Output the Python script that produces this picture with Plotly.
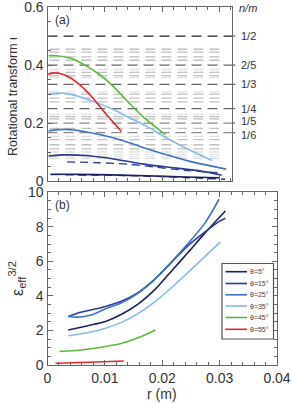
import plotly.graph_objects as go

W, H = 291, 404

# ---------------- data: panel (a) rotational transform ----------------
r_a_5 = [0.0005, 0.0054, 0.0113, 0.0171, 0.0240, 0.0300]
iota_5 = [0.023, 0.023, 0.021, 0.018, 0.014, 0.011]
r_a_5d = [0.0031, 0.0100, 0.0171, 0.0240, 0.0310]
iota_5d = [0.021, 0.020, 0.017, 0.012, 0.006]

r_a_15 = [0.0002, 0.0030, 0.0066, 0.0113, 0.0162, 0.0205, 0.0266, 0.0304]
iota_15 = [0.086, 0.090, 0.088, 0.077, 0.060, 0.049, 0.035, 0.020]
r_a_15d = [0.0034, 0.0090, 0.0141, 0.0188, 0.0240, 0.0300]
iota_15d = [0.066, 0.063, 0.058, 0.048, 0.037, 0.028]

r_a_25 = [0.0002, 0.0031, 0.0066, 0.0113, 0.0159, 0.0205, 0.0252, 0.0312]
iota_25 = [0.173, 0.178, 0.170, 0.150, 0.121, 0.092, 0.066, 0.041]

r_a_35 = [0.0002, 0.0026, 0.0054, 0.0083, 0.0113, 0.0141, 0.0171, 0.0205, 0.0240, 0.0287]
iota_35 = [0.301, 0.303, 0.292, 0.272, 0.249, 0.220, 0.191, 0.152, 0.115, 0.071]

r_a_45 = [0.0002, 0.0012, 0.0043, 0.0066, 0.0089, 0.0113, 0.0141, 0.0171, 0.0206]
iota_45 = [0.432, 0.433, 0.422, 0.399, 0.370, 0.330, 0.272, 0.214, 0.160]

r_a_55 = [0.0001, 0.0014, 0.0031, 0.0054, 0.0078, 0.0101, 0.0129]
iota_55 = [0.368, 0.373, 0.365, 0.336, 0.289, 0.234, 0.171]

# rational surfaces n/m
major_rat_vals = [1/2, 2/5, 1/3, 1/4, 1/5, 1/6]
major_rat_text = ["1/2", "2/5", "1/3", "1/4", "1/5", "1/6"]
minor_rat_mid = [5/11, 4/9, 3/7, 5/12, 3/8, 4/11, 3/10, 2/7, 3/11, 2/9, 3/14, 2/11, 1/7, 1/8, 1/9]
minor_rat_light = [1/10, 1/11, 1/12, 1/13, 5/13, 4/13, 3/13, 2/13, 5/14]

# ---------------- data: panel (b) effective ripple ----------------
r_b_5 = [0.0036, 0.0072, 0.0101, 0.0130, 0.0159, 0.0188, 0.0217, 0.0246, 0.0275, 0.0310]
eps_5 = [2.03, 2.29, 2.52, 2.95, 3.55, 4.39, 5.47, 6.55, 7.66, 8.91]

r_b_15 = [0.0036, 0.0052, 0.0075, 0.0101, 0.0130, 0.0159, 0.0188, 0.0217, 0.0246, 0.0275, 0.0298, 0.0310]
eps_15 = [2.81, 3.00, 3.18, 3.39, 3.70, 4.22, 5.00, 5.97, 6.94, 7.71, 8.28, 8.49]

r_b_25 = [0.0036, 0.0052, 0.0075, 0.0101, 0.0130, 0.0159, 0.0188, 0.0217, 0.0246, 0.0275, 0.0299]
eps_25 = [2.81, 2.77, 2.88, 3.25, 3.62, 4.18, 4.98, 6.00, 7.07, 8.24, 9.59]

r_b_35 = [0.0036, 0.0072, 0.0101, 0.0130, 0.0159, 0.0188, 0.0217, 0.0246, 0.0275, 0.0301]
eps_35 = [1.69, 1.88, 2.13, 2.48, 3.00, 3.68, 4.50, 5.39, 6.30, 7.11]

r_b_45 = [0.0021, 0.0060, 0.0101, 0.0130, 0.0159, 0.0188]
eps_45 = [0.78, 0.87, 1.07, 1.26, 1.59, 2.03]

r_b_55 = [0.0014, 0.0072, 0.0133]
eps_55 = [0.10, 0.16, 0.23]

angles = ["θ=5°", "θ=15°", "θ=25°", "θ=35°", "θ=45°", "θ=55°"]
colors = ["#1c2060", "#2b3c95", "#3d74c4", "#86bbe8", "#5cb83c", "#e8232b"]

fig = go.Figure()

def add(x, y, c, xa, ya, dash="solid", w=1.6):
    fig.add_trace(go.Scatter(x=x, y=y, mode="lines", xaxis=xa, yaxis=ya,
                             line=dict(color=c, width=w, dash=dash, shape="spline", smoothing=0.8),
                             showlegend=False, hoverinfo="skip"))

# rational lines as shapes
for v in minor_rat_light:
    fig.add_shape(type="line", xref="x domain", yref="y", x0=0.01, x1=0.96, y0=v, y1=v,
                  line=dict(color="#e0e0e0", width=1.3, dash="10px,6px"), layer="below")
for v in minor_rat_mid:
    fig.add_shape(type="line", xref="x domain", yref="y", x0=0.01, x1=0.96, y0=v, y1=v,
                  line=dict(color="#c0c0c0", width=1.3, dash="10px,6px"), layer="below")
for v, t in zip(major_rat_vals, major_rat_text):
    col = "#222222" if t == "1/2" else ("#666666" if t in ("2/5", "1/3", "1/4") else "#8a8a8a")
    fig.add_shape(type="line", xref="x domain", yref="y", x0=0.0, x1=1.0, y0=v, y1=v,
                  line=dict(color=col, width=1.3, dash="10px,6px"), layer="below")
    # small outside tick on the right axis
    fig.add_shape(type="line", xref="x domain", yref="y", x0=1.0, x1=1.018, y0=v, y1=v,
                  line=dict(color="#666666", width=1.2))

# panel (a)
add(r_a_5, iota_5, colors[0], "x", "y")
add(r_a_5d, iota_5d, colors[0], "x", "y", dash="8px,5px", w=1.3)
add(r_a_15, iota_15, colors[1], "x", "y")
add(r_a_15d, iota_15d, colors[1], "x", "y", dash="8px,5px", w=1.3)
add(r_a_25, iota_25, colors[2], "x", "y")
add(r_a_35, iota_35, colors[3], "x", "y")
add(r_a_45, iota_45, colors[4], "x", "y")
add(r_a_55, iota_55, colors[5], "x", "y")

# panel (b)
add(r_b_5, eps_5, colors[0], "x2", "y2")
add(r_b_15, eps_15, colors[1], "x2", "y2")
add(r_b_25, eps_25, colors[2], "x2", "y2")
add(r_b_35, eps_35, colors[3], "x2", "y2")
add(r_b_45, eps_45, colors[4], "x2", "y2")
add(r_b_55, eps_55, colors[5], "x2", "y2")

def px(x):
    return x / W

def py(y):
    return 1 - y / H

axcol = "#666666"
FONT = "Liberation Sans, Arial, sans-serif"
tf = dict(family=FONT, size=14, color="#333333")
common = dict(showline=True, linecolor=axcol, linewidth=1.2, ticks="inside", tickcolor=axcol,
              ticklen=5, showgrid=False, zeroline=False, automargin=False, tickfont=tf,
              ticklabeloverflow="allow")

fig.update_layout(
    width=W, height=H, margin=dict(l=0, r=0, t=0, b=0),
    paper_bgcolor="white", plot_bgcolor="white", showlegend=False,
    font=dict(family=FONT, color="#333333"),
    xaxis=dict(domain=[px(47.5), px(232)], anchor="y", range=[0, 0.0322], dtick=0.01,
               showticklabels=False, mirror="ticks",
               minor=dict(dtick=0.002, ticks="inside", ticklen=3, tickcolor=axcol), **common),
    yaxis=dict(domain=[py(181), py(7)], anchor="x", range=[0, 0.6003], mirror=True,
               tickvals=[0, 0.2, 0.4, 0.6], ticktext=["0", "0.2", "0.4", "0.6"],
               minor=dict(dtick=0.05, ticks="inside", ticklen=3, tickcolor=axcol), **common),
    xaxis2=dict(domain=[px(47.5), px(277)], anchor="y2", range=[0, 0.04], mirror="ticks",
                tickvals=[0, 0.01, 0.02, 0.03, 0.04],
                ticktext=["0", "0.01", "0.02", "0.03", "0.04"],
                minor=dict(dtick=0.002, ticks="inside", ticklen=3, tickcolor=axcol), **common),
    yaxis2=dict(domain=[py(365), py(192)], anchor="x2", range=[0, 10.01], mirror="ticks",
                tickvals=[0, 2, 4, 6, 8, 10],
                minor=dict(dtick=0.5, ticks="inside", ticklen=3, tickcolor=axcol), **common),
)

ann = []
ann.append(dict(text="(a)", x=px(53), y=py(20), xanchor="left", yanchor="middle",
                font=dict(size=12, color="#333333")))
ann.append(dict(text="(b)", x=px(53), y=py(205), xanchor="left", yanchor="middle",
                font=dict(size=12, color="#333333")))
ann.append(dict(text="<i>n/m</i>", x=px(237), y=py(8), xanchor="left", yanchor="middle",
                font=dict(size=11, color="#333333")))
ann.append(dict(text="Rotational transform ι", x=px(13), y=py(97), textangle=-90,
                xanchor="center", yanchor="middle", font=dict(size=12.5, color="#333333")))
ann.append(dict(text="ε<sub>eff</sub><sup>3/2</sup>", x=px(17), y=py(279), textangle=-90,
                xanchor="center", yanchor="middle", font=dict(size=16, color="#333333")))
ann.append(dict(text="r (m)", x=px(162), y=py(394), xanchor="center", yanchor="middle",
                font=dict(size=14, color="#333333")))

for a in ann:
    a.update(xref="paper", yref="paper", showarrow=False)

# right-hand n/m labels, positioned on the iota axis
for v, t in zip(major_rat_vals, major_rat_text):
    yshift = 0
    if t == "1/5":
        yshift = 2
    if t == "1/6":
        yshift = -2
    ann.append(dict(text=t, xref="paper", yref="y", x=px(238.5), y=v, xanchor="left",
                    yanchor="middle", showarrow=False, yshift=yshift,
                    font=dict(size=11, color="#333333")))

# custom legend
lx0, lx1, ly0, ly1 = 222, 273.5, 263.5, 339
fig.add_shape(type="rect", xref="paper", yref="paper", x0=px(lx0), x1=px(lx1), y0=py(ly1), y1=py(ly0),
              line=dict(color="#555555", width=1.2), fillcolor="white", layer="above")
row_y = [271.7, 283.5, 294.8, 306.0, 317.5, 329.3]
for name, c, yy in zip(angles, colors, row_y):
    fig.add_shape(type="line", xref="paper", yref="paper", x0=px(225.5), x1=px(247), y0=py(yy), y1=py(yy),
                  line=dict(color=c, width=1.6), layer="above")
    ann.append(dict(text=name, x=px(248), y=py(yy), xanchor="left", yanchor="middle",
                    xref="paper", yref="paper", showarrow=False,
                    font=dict(size=7, color="#444444")))

fig.update_layout(annotations=ann)

fig.write_html("out.html", config={"displayModeBar": False},
               post_script="document.body.style.margin='0';document.body.style.overflow='hidden';")
